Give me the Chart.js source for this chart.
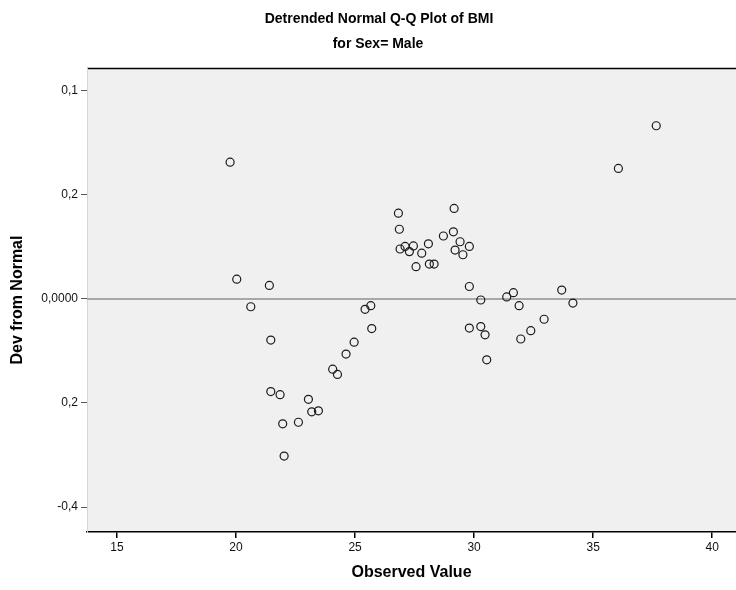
<!DOCTYPE html>
<html>
<head>
<meta charset="utf-8">
<title>Detrended Normal Q-Q Plot of BMI</title>
<script src="https://cdn.jsdelivr.net/npm/chart.js@4"></script>
<style>
  html, body { margin: 0; padding: 0; background: #fff; }
  #wrap { width: 736px; height: 590px; }
</style>
</head>
<body>
<div id="wrap"><canvas id="qq" width="736" height="590"></canvas></div>
<script>
// --- DATA ---
const observed = [
  19.75, 20.03, 21.40, 20.62, 21.46, 21.46, 21.85, 21.96, 22.02, 22.62,
  23.04, 23.18, 23.46, 24.06, 24.26, 24.62, 24.96, 25.42, 25.66, 25.70,
  26.82, 26.86, 26.89, 27.10, 27.28, 27.45, 27.56, 27.80, 28.08, 28.12,
  28.32, 29.16, 28.71, 29.13, 29.41, 29.80, 29.20, 29.53,
  29.80, 30.28, 31.37, 31.65, 31.89, 33.68, 34.15, 29.80, 30.28, 30.46,
  32.94, 32.38, 31.96, 30.53,
  37.65, 36.06
];
const devFromNormal = [
  0.263, 0.038, 0.026, -0.015, -0.079, -0.178, -0.184, -0.240, -0.302, -0.237,
  -0.193, -0.217, -0.215, -0.135, -0.145, -0.106, -0.083, -0.020, -0.013, -0.057,
  0.165, 0.134, 0.096, 0.101, 0.091, 0.102, 0.062, 0.088, 0.106, 0.067,
  0.067, 0.174, 0.121, 0.129, 0.110, 0.101, 0.094, 0.085,
  0.024, -0.002, 0.004, 0.012, -0.013, 0.017, -0.008, -0.056, -0.053, -0.069,
  -0.039, -0.061, -0.077, -0.117,
  0.333, 0.251
];
const xTicks = [15, 20, 25, 30, 35, 40];
const yTicks = [0.4, 0.2, 0, -0.2, -0.4];
const yTickLabels = ['0,1', '0,2', '0,0000', '0,2', '-0,4'];
const xMin = 13.74, xMax = 41.0;
const yMin = -0.448, yMax = 0.444;

const FONT = "'Liberation Sans', Arial, sans-serif";

// --- PLUGINS ---
const plotBackground = {
  id: 'plotBackground',
  beforeDraw(chart) {
    const { ctx, chartArea: a } = chart;
    ctx.save();
    ctx.fillStyle = '#f0f0f0';
    ctx.fillRect(a.left, a.top, a.right - a.left, a.bottom - a.top);
    ctx.strokeStyle = '#000';
    ctx.lineWidth = 1.5;
    ctx.beginPath();
    ctx.moveTo(a.left, a.top + 0.5);
    ctx.lineTo(a.right, a.top + 0.5);
    ctx.stroke();
    ctx.restore();
  }
};

const titles = {
  id: 'titles',
  afterDraw(chart) {
    const { ctx } = chart;
    ctx.save();
    ctx.fillStyle = '#000';
    ctx.textAlign = 'center';
    ctx.textBaseline = 'middle';
    ctx.font = 'bold 14px ' + FONT;
    ctx.fillText('Detrended Normal Q-Q Plot of BMI', 379, 19);
    ctx.font = 'bold 14px ' + FONT;
    ctx.fillText('for Sex= Male', 378, 44);
    ctx.restore();
  }
};

// --- CHART ---
const ctx = document.getElementById('qq').getContext('2d');
const qqChart = new Chart(ctx, {
  type: 'scatter',
  data: {
    datasets: [
      {
        label: 'Dev from Normal',
        data: observed.map((x, i) => ({ x: x, y: devFromNormal[i] })),
        pointStyle: 'circle',
        pointRadius: 4,
        pointHoverRadius: 4,
        pointBorderWidth: 1.2,
        pointBorderColor: '#1a1a1a',
        pointBackgroundColor: 'rgba(0,0,0,0)',
        order: 1
      },
      {
        type: 'line',
        label: 'zero',
        data: [{ x: xMin, y: 0 }, { x: xMax, y: 0 }],
        borderColor: '#a8a8a8',
        borderWidth: 2,
        pointRadius: 0,
        order: 2
      }
    ]
  },
  options: {
    responsive: false,
    animation: false,
    layout: { autoPadding: false, padding: { top: 68, right: 0, left: 0, bottom: 0 } },
    plugins: {
      legend: { display: false },
      tooltip: { enabled: false }
    },
    scales: {
      x: {
        type: 'linear',
        min: xMin,
        max: xMax,
        afterBuildTicks: s => { s.ticks = xTicks.map(v => ({ value: v })); },
        afterFit: s => { s.height = 58; },
        border: { display: true, color: '#000', width: 1.5 },
        grid: { drawOnChartArea: false, drawTicks: true, tickLength: 6, color: '#000', lineWidth: 1.5 },
        ticks: {
          padding: 2,
          color: '#111',
          font: { family: FONT, size: 12 },
          maxRotation: 0,
          callback: v => String(v)
        },
        title: {
          display: true,
          text: 'Observed Value',
          color: '#000',
          font: { family: FONT, size: 16, weight: 'bold' },
          padding: { top: 7.5, bottom: 7.5 }
        }
      },
      y: {
        type: 'linear',
        min: yMin,
        max: yMax,
        afterBuildTicks: s => { s.ticks = yTicks.map(v => ({ value: v })); },
        afterFit: s => { s.width = 87; },
        border: { display: true, color: '#d6d6d6', width: 1 },
        grid: { drawOnChartArea: false, drawTicks: true, tickLength: 6, color: '#555', lineWidth: 1 },
        ticks: {
          padding: 3,
          color: '#111',
          font: { family: FONT, size: 12 },
          callback: (v) => {
            const i = yTicks.findIndex(t => Math.abs(t - v) < 1e-9);
            return i >= 0 ? yTickLabels[i] : '';
          }
        },
        title: {
          display: true,
          text: 'Dev from Normal',
          color: '#000',
          font: { family: FONT, size: 16, weight: 'bold' },
          padding: { top: 8, bottom: 8 }
        }
      }
    }
  },
  plugins: [plotBackground, titles]
});
</script>
</body>
</html>
